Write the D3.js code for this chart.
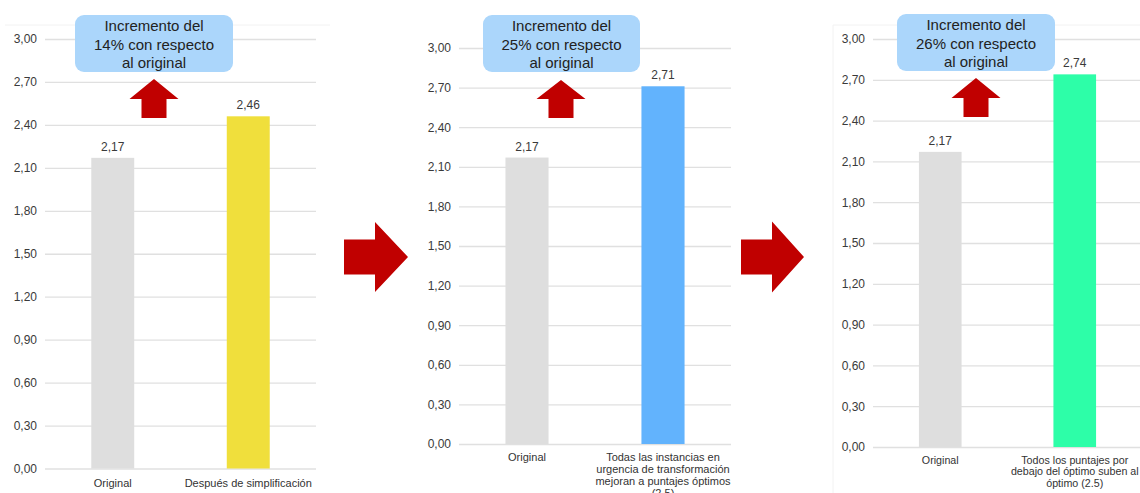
<!DOCTYPE html>
<html>
<head>
<meta charset="utf-8">
<script src="https://cdn.jsdelivr.net/npm/d3@7"></script>
<style>
  html, body { margin: 0; padding: 0; background: #ffffff; }
  svg { display: block; font-family: "Liberation Sans", Arial, sans-serif; }
</style>
</head>
<body>
<svg id="chart" width="1140" height="493"></svg>
<script>
// Categories for each of the three scenarios (line breaks mark wrapped labels)
const categoriesA = ["Original", "Después de simplificación"];
const categoriesB = ["Original", "Todas las instancias en\nurgencia de transformación\nmejoran a puntajes óptimos\n(2,5)"];
const categoriesC = ["Original", "Todos los puntajes por\ndebajo del óptimo suben al\nóptimo (2.5)"];

// Average score per scenario
const valuesA = [2.17, 2.46];
const valuesB = [2.17, 2.71];
const valuesC = [2.17, 2.74];

// Y axis ticks shared by every panel
const yTicks = [0, 0.3, 0.6, 0.9, 1.2, 1.5, 1.8, 2.1, 2.4, 2.7, 3.0];

// Callout texts
const calloutA = ["Incremento del", "14% con respecto", "al original"];
const calloutB = ["Incremento del", "25% con respecto", "al original"];
const calloutC = ["Incremento del", "26% con respecto", "al original"];

const barColorsA = ["#dedede", "#f0df3c"];
const barColorsB = ["#dedede", "#62b3fd"];
const barColorsC = ["#dedede", "#2dfea8"];

const fmt = v => d3.format(".2f")(v).replace(".", ",");

const svg = d3.select("#chart");

// Geometry of each panel
const panels = [
  { cats: categoriesA, vals: valuesA, colors: barColorsA, callout: calloutA,
    x0: 45, x1: 316, gridEnd: 316, yZero: 468.5, yTop: 39, catY: 483, lineH: 12, catSize: 11,
    box: [75, 15, 158, 57], arrow: { cx: 154, tip: 79, base: 99, bottom: 118 },
    frame: { top: 25, left: null, x0: 5, x1: 330 } },
  { cats: categoriesB, vals: valuesB, colors: barColorsB, callout: calloutB,
    x0: 459, x1: 731, gridEnd: 731, yZero: 444, yTop: 48, catY: 457, lineH: 12, catSize: 11,
    box: [483, 15, 157, 57], arrow: { cx: 561, tip: 80, base: 99, bottom: 118 },
    frame: null },
  { cats: categoriesC, vals: valuesC, colors: barColorsC, callout: calloutC,
    x0: 873, x1: 1142, gridEnd: 1140, yZero: 447, yTop: 39, catY: 460, lineH: 11.7, catSize: 10.7,
    box: [897, 14, 158, 57], arrow: { cx: 976, tip: 78, base: 98, bottom: 117 },
    frame: { top: 25, left: 833, x0: 833, x1: 1140 } }
];

panels.forEach(p => {
  const g = svg.append("g");

  // Light chart frame
  if (p.frame) {
    g.append("line").attr("x1", p.frame.x0).attr("x2", p.frame.x1)
      .attr("y1", p.frame.top).attr("y2", p.frame.top)
      .attr("stroke", "#f2f2f2").attr("stroke-width", 1);
    if (p.frame.left !== null) {
      g.append("line").attr("x1", p.frame.left).attr("x2", p.frame.left)
        .attr("y1", p.frame.top).attr("y2", 493)
        .attr("stroke", "#f2f2f2").attr("stroke-width", 1);
    }
  }

  const y = d3.scaleLinear().domain([0, 3]).range([p.yZero, p.yTop]);
  const x = d3.scaleBand().domain(p.cats).range([p.x0, p.x1])
    .paddingInner(0.683).paddingOuter(0.3415);

  // Gridlines and tick labels through a left axis
  const axis = d3.axisLeft(y).tickValues(yTicks).tickFormat(fmt)
    .tickSize(-(p.gridEnd - p.x0)).tickPadding(8);
  const ag = g.append("g").attr("transform", `translate(${p.x0},0)`).call(axis);
  ag.select(".domain").remove();
  ag.selectAll(".tick line").attr("stroke", "#e0e0e0").attr("stroke-width", 1.3);
  ag.selectAll(".tick text").attr("fill", "#3a3a3a").attr("font-size", 12)
    .attr("font-family", "'Liberation Sans', Arial, sans-serif");

  // Bars
  g.selectAll("rect.bar").data(p.vals).join("rect").attr("class", "bar")
    .attr("x", (d, i) => x(p.cats[i]))
    .attr("width", x.bandwidth())
    .attr("y", d => y(d))
    .attr("height", d => y(0) - y(d))
    .attr("fill", (d, i) => p.colors[i]);

  // Value labels
  g.selectAll("text.val").data(p.vals).join("text").attr("class", "val")
    .attr("x", (d, i) => x(p.cats[i]) + x.bandwidth() / 2)
    .attr("y", d => y(d) - 7)
    .attr("text-anchor", "middle").attr("font-size", 12).attr("fill", "#3a3a3a")
    .text(fmt);

  // Category labels
  p.cats.forEach(c => {
    const t = g.append("text")
      .attr("x", x(c) + x.bandwidth() / 2)
      .attr("text-anchor", "middle").attr("font-size", p.catSize).attr("fill", "#333");
    c.split("\n").forEach((line, k) => {
      t.append("tspan").attr("x", x(c) + x.bandwidth() / 2)
        .attr("y", p.catY + k * p.lineH).attr("dy", "0.35em").text(line);
    });
  });

  // Up arrow
  const a = p.arrow, hw = 24.5, sw = 12.5;
  g.append("path")
    .attr("d", `M${a.cx},${a.tip} L${a.cx + hw},${a.base} L${a.cx + sw},${a.base} L${a.cx + sw},${a.bottom} L${a.cx - sw},${a.bottom} L${a.cx - sw},${a.base} L${a.cx - hw},${a.base} Z`)
    .attr("fill", "#c00000");

  // Callout box
  const [bx, by, bw, bh] = p.box;
  g.append("rect").attr("x", bx).attr("y", by).attr("width", bw).attr("height", bh)
    .attr("rx", 9).attr("ry", 9).attr("fill", "#abd6fb");
  p.callout.forEach((line, k) => {
    g.append("text").attr("x", bx + bw / 2).attr("y", by + 11 + k * 18.5)
      .attr("dy", "0.35em").attr("text-anchor", "middle")
      .attr("font-size", 15).attr("fill", "#222").text(line);
  });
});

// Right-pointing arrows between panels
const rightArrows = [
  { x0: 344, neck: 375, tip: 408, cy: 257, sh: 17.5, hh: 35 },
  { x0: 741, neck: 772, tip: 804, cy: 257, sh: 17.5, hh: 35.5 }
];
svg.selectAll("path.next").data(rightArrows).join("path").attr("class", "next")
  .attr("d", d => `M${d.x0},${d.cy - d.sh} L${d.neck},${d.cy - d.sh} L${d.neck},${d.cy - d.hh} L${d.tip},${d.cy} L${d.neck},${d.cy + d.hh} L${d.neck},${d.cy + d.sh} L${d.x0},${d.cy + d.sh} Z`)
  .attr("fill", "#c00000");
</script>
</body>
</html>
